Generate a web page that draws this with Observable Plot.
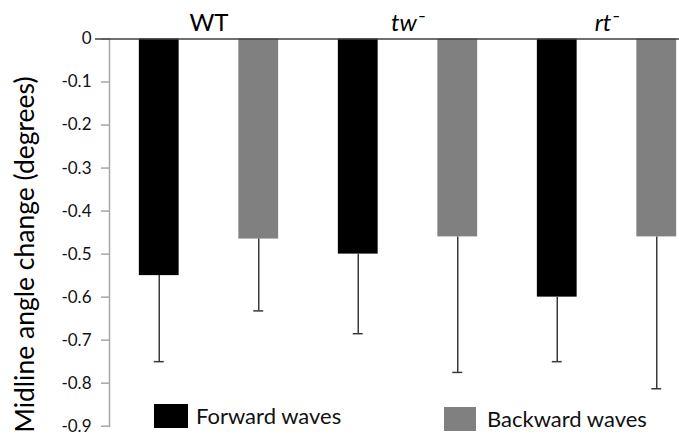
<!DOCTYPE html>
<html>
<head>
<meta charset="utf-8">
<script src="https://cdn.jsdelivr.net/npm/d3@7"></script>
<script src="https://cdn.jsdelivr.net/npm/@observablehq/plot@0.6"></script>
<style>
  html, body { margin: 0; padding: 0; background: #fff; }
  #chart { position: relative; width: 679px; height: 436px; overflow: hidden; font-family: Lato, "Open Sans", sans-serif; }
  .legend-item { position: absolute; display: flex; align-items: center; font-size: 22px; color: #111; }
  .legend-item .swatch { display: inline-block; }
</style>
</head>
<body>
<div id="chart"></div>
<script>
// Midline angle change per genotype, forward vs backward waves (mean and SD)
const genotypes = ["WT", "tw⁻", "rt⁻"];
const directions = ["Forward waves", "Backward waves"];
const forwardMean = [-0.55, -0.50, -0.60];
const forwardSD = [0.20, 0.185, 0.15];
const backwardMean = [-0.465, -0.46, -0.46];
const backwardSD = [0.167, 0.315, 0.353];
const yTicks = [0, -0.1, -0.2, -0.3, -0.4, -0.5, -0.6, -0.7, -0.8, -0.9];
const directionColors = ["#000000", "#808080"];

// one row per bar; slot index orders the bars left to right
const rows = [];
genotypes.forEach((g, gi) => {
  rows.push({genotype: g, direction: directions[0], slot: 2 * gi, mean: forwardMean[gi], sd: forwardSD[gi]});
  rows.push({genotype: g, direction: directions[1], slot: 2 * gi + 1, mean: backwardMean[gi], sd: backwardSD[gi]});
});
const groupLabels = genotypes.map((g, gi) => ({label: g, center: 2 * gi + 0.5, italic: gi > 0}));

const barHalf = 0.2;   // half bar width, in slot units
const capHalf = 0.05;  // half error-cap width, in slot units

const chart = Plot.plot({
  width: 679,
  height: 436,
  marginLeft: 109,
  marginRight: -27,
  marginTop: 38.5,
  marginBottom: 10.3,
  style: {fontFamily: "Lato, 'Open Sans', sans-serif", background: "#fff"},
  x: {domain: [-0.5, 5.5], axis: null},
  y: {domain: [-0.9, 0], axis: null},
  color: {domain: directions, range: directionColors},
  marks: [
    Plot.frame({anchor: "left", stroke: "#a6a6a6", strokeWidth: 1.5}),
    Plot.axisY({
      ticks: yTicks,
      tickSize: 8,
      tickPadding: 10,
      tickFormat: d => d === 0 ? "0" : d.toFixed(1),
      stroke: "#a6a6a6",
      strokeWidth: 1.5,
      fill: "#111",
      fontSize: 17,
      label: null
    }),
    Plot.rectY(rows, {
      x1: d => d.slot - barHalf,
      x2: d => d.slot + barHalf,
      y1: 0,
      y2: "mean",
      fill: "direction"
    }),
    Plot.ruleX(rows, {x: "slot", y1: "mean", y2: d => d.mean - d.sd, stroke: "#3a3a3a", strokeWidth: 1.5}),
    Plot.ruleY(rows, {
      y: d => d.mean - d.sd,
      x1: d => d.slot - capHalf,
      x2: d => d.slot + capHalf,
      stroke: "#3a3a3a",
      strokeWidth: 1.5
    }),
    Plot.ruleY([0], {stroke: "#404040", strokeWidth: 1.5, insetLeft: -14}),
    Plot.text(groupLabels.filter(d => !d.italic), {
      x: "center", text: "label", frameAnchor: "top", lineAnchor: "bottom",
      dy: -8, fontSize: 24, fill: "#000"
    }),
    Plot.text(groupLabels.filter(d => d.italic), {
      x: "center", text: "label", frameAnchor: "top", lineAnchor: "bottom",
      dy: -8, fontSize: 24, fontStyle: "italic", fill: "#000"
    }),
    Plot.text(["Midline angle change (degrees)"], {
      frameAnchor: "left", textAnchor: "middle", rotate: -90,
      dx: -84, dy: 22, fontSize: 26.5, fill: "#000"
    })
  ]
});

const container = document.getElementById("chart");
container.appendChild(chart);

// legend entries sit inside the lower part of the plot
const legendPlacement = [
  {left: 154, top: 402, w: 34, h: 24, gap: 8},
  {left: 444, top: 405, w: 32, h: 24, gap: 11}
];
directions.forEach((name, i) => {
  const p = legendPlacement[i];
  const item = document.createElement("div");
  item.className = "legend-item";
  item.style.left = p.left + "px";
  item.style.top = p.top + "px";
  const sw = document.createElement("span");
  sw.className = "swatch";
  sw.style.width = p.w + "px";
  sw.style.height = p.h + "px";
  sw.style.marginRight = p.gap + "px";
  sw.style.background = chart.scale("color").apply(name);
  item.appendChild(sw);
  const label = document.createElement("span");
  label.textContent = name;
  item.appendChild(label);
  container.appendChild(item);
});
</script>
</body>
</html>
